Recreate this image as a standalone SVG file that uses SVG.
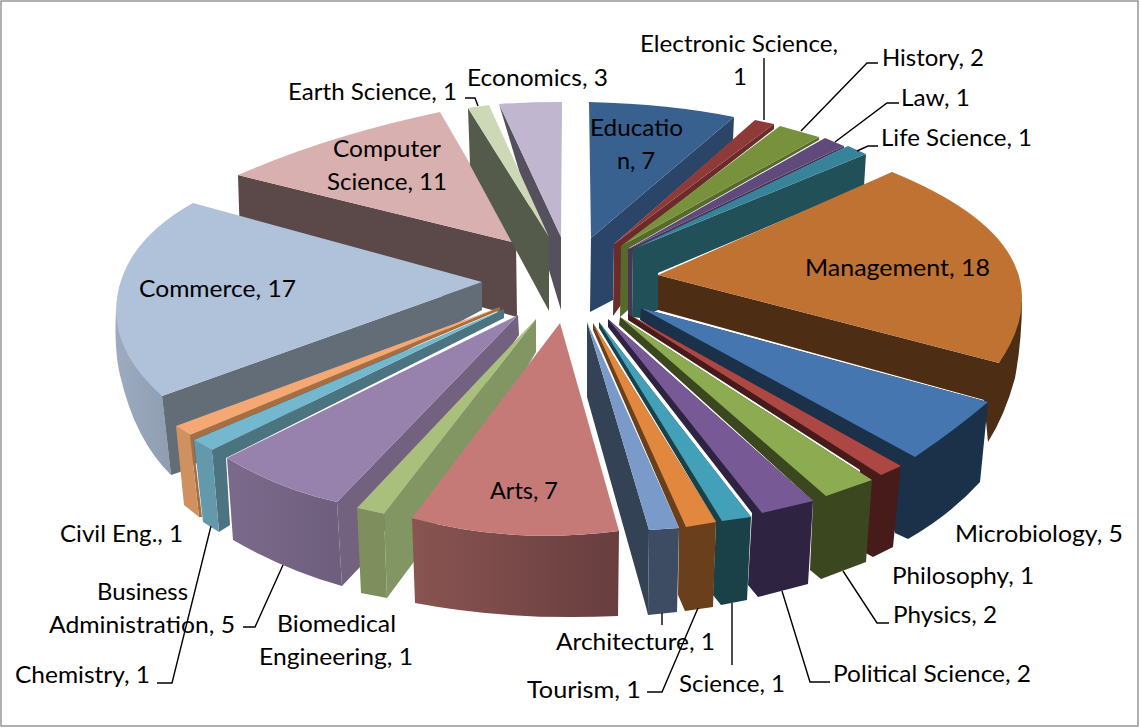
<svg xmlns="http://www.w3.org/2000/svg" width="1140" height="728" viewBox="0 0 1140 728">
<style>
text{font-family:Lato,"Open Sans","Liberation Sans",sans-serif;font-size:24px;fill:#000}
.c{fill:none;stroke:#000;stroke-width:1.4}
</style>
<defs>
<linearGradient id="artsW" x1="0" x2="1" y1="0" y2="0"><stop offset="0" stop-color="#895452"/><stop offset="1" stop-color="#683e3e"/></linearGradient>
<linearGradient id="baW" x1="0" x2="1" y1="0" y2="0"><stop offset="0" stop-color="#7c6a8c"/><stop offset="1" stop-color="#6e5e7c"/></linearGradient>
<linearGradient id="comW" x1="0" x2="1" y1="0" y2="0"><stop offset="0" stop-color="#9cabc1"/><stop offset="1" stop-color="#8f9db0"/></linearGradient>
</defs>
<rect x="1" y="1" width="1137" height="725" fill="#fff" stroke="#868686" stroke-width="1.3"/>

<g id="computer-science">
<path d="M238 175L516 243L517 317L240 240Z" fill="#5b4848"/>
<path d="M516 243L440 112Q330 135 238 175Z" fill="#d9b0b0"/>
<text x="333" y="157" textLength="108" lengthAdjust="spacingAndGlyphs">Computer</text>
<text x="327" y="190" textLength="120" lengthAdjust="spacingAndGlyphs">Science, 11</text>
</g>
<g id="commerce">
<path d="M116 310Q114 350 120 375Q135 440 171 475L162 396Z" fill="url(#comW)"/>
<path d="M482 282L482 310L180 472L171 475L162 396Z" fill="#636d78"/>
<path d="M482 282L193 203Q118 245 116 310Q116 355 162 396Z" fill="#b0c1da"/>
<text x="139" y="297" textLength="157" lengthAdjust="spacingAndGlyphs">Commerce, 17</text>
</g>
<g id="economics">
<path d="M499 104L561 237L561 310Z" fill="#55505e"/>
<path d="M499 104Q530 102 562 102L561 237Z" fill="#c0b6d0"/>
<text x="467" y="86" textLength="141" lengthAdjust="spacingAndGlyphs">Economics, 3</text>
</g>
<g id="earth-science">
<path d="M468 108L549 237L549 311L470 165Z" fill="#555b4a"/>
<path d="M468 108L489 105L549 237Z" fill="#cdd9b6"/>
<text x="288" y="100" textLength="169" lengthAdjust="spacingAndGlyphs">Earth Science, 1</text>
</g>
<g id="education">
<path d="M591 238L734 117L733 140L614 244L613 300L590 312Z" fill="#2a4567"/>
<path d="M591 238L589 102Q670 104 734 117Z" fill="#38618f"/>
<text x="590" y="136" textLength="93" lengthAdjust="spacingAndGlyphs">Educatio</text>
<text x="617" y="169" textLength="38" lengthAdjust="spacingAndGlyphs">n, 7</text>
</g>
<g id="electronic-science">
<path d="M614 244L774 124L774 129L622 247L621 305L613 316Z" fill="#6a2b2a"/>
<path d="M614 244L755 120L774 124Z" fill="#8e3a38"/>
<text x="640" y="52" textLength="198" lengthAdjust="spacingAndGlyphs">Electronic Science,</text>
<text x="733" y="85">1</text>
</g>
<g id="history">
<path d="M621 246L819 137L819 140L629 248L628 310L620 317Z" fill="#566a2c"/>
<path d="M621 246L780 126L819 137Z" fill="#77913c"/>
<text x="882" y="66" textLength="102" lengthAdjust="spacingAndGlyphs">History, 2</text>
</g>
<g id="law">
<path d="M628 249L844 146L844 148L633 250L632 317L628 315Z" fill="#463658"/>
<path d="M628 249L825 138L844 146Z" fill="#604a7b"/>
<text x="901" y="106" textLength="69" lengthAdjust="spacingAndGlyphs">Law, 1</text>
</g>
<g id="life-science">
<path d="M633 249L866 154L864 186L658 273L658 310L640 318L632 317Z" fill="#215058"/>
<path d="M633 249L848 146L866 154Z" fill="#37839a"/>
<text x="881" y="146" textLength="151" lengthAdjust="spacingAndGlyphs">Life Science, 1</text>
</g>
<g id="management">
<path d="M658 275L999 363L1022 300Q1022 340 1015 378Q1005 415 988 442L984 400L640 305L658 310Z" fill="#4d2d13"/>
<path d="M658 275L892 172Q1022 225 1022 298Q1022 330 999 363Z" fill="#bf7231"/>
<text x="805" y="276" textLength="185" lengthAdjust="spacingAndGlyphs">Management, 18</text>
</g>
<g id="microbiology">
<path d="M641 308L988 402L984 442L980 482Q950 515 908 539L895 533L881 475L640 320Z" fill="#1b3149"/>
<path d="M641 308L988 402Q955 430 915 457Z" fill="#4676b0"/>
<text x="955" y="542" textLength="168" lengthAdjust="spacingAndGlyphs">Microbiology, 5</text>
</g>
<g id="philosophy">
<path d="M628 314L901 466L893 547L873 557L860 550L860 470L628 320Z" fill="#481b1b"/>
<path d="M628 314L901 466L881 475Z" fill="#ad4744"/>
<text x="892" y="584" textLength="142" lengthAdjust="spacingAndGlyphs">Philosophy, 1</text>
</g>
<g id="physics">
<path d="M620 317L872 480L866 562L821 579L810 570L813 501L619 325Z" fill="#3b471e"/>
<path d="M620 317L872 480L826 496Z" fill="#8dab50"/>
<text x="893" y="623" textLength="104" lengthAdjust="spacingAndGlyphs">Physics, 2</text>
</g>
<g id="political-science">
<path d="M608 319L813 501L808 584L758 597L748 585L752 513L608 327Z" fill="#2e2340"/>
<path d="M608 319L813 501L762 513Z" fill="#775a95"/>
<text x="833" y="682" textLength="198" lengthAdjust="spacingAndGlyphs">Political Science, 2</text>
</g>
<g id="science">
<path d="M599 322L751 517L747 600L721 605L713 595L716 522L599 328Z" fill="#1a4048"/>
<path d="M599 322L751 517L722 521Z" fill="#43a0b9"/>
<text x="679" y="692" textLength="106" lengthAdjust="spacingAndGlyphs">Science, 1</text>
</g>
<g id="tourism">
<path d="M593 323L716 522L713 607L685 611L678 595L679 528L593 330Z" fill="#693f1c"/>
<path d="M593 323L716 522L686 527Z" fill="#e2883e"/>
<text x="527" y="698" textLength="114" lengthAdjust="spacingAndGlyphs">Tourism, 1</text>
</g>
<g id="architecture">
<path d="M587 322L649 530L648 615L646 607L587 397Z" fill="#344256"/>
<path d="M649 530L679 528L677 612L648 615Z" fill="#3d4c62"/>
<path d="M587 322L679 528L649 530Z" fill="#7a9bca"/>
<text x="556" y="650" textLength="159" lengthAdjust="spacingAndGlyphs">Architecture, 1</text>
</g>
<g id="civil-eng">
<path d="M500 307L190 435L199 517L202 517L193 440L500 310Z" fill="#a76e41"/>
<path d="M176 426L190 435L199 517L184 505Z" fill="#cf9160"/>
<path d="M500 307L190 435L176 426Z" fill="#f5a873"/>
<text x="60" y="542" textLength="123" lengthAdjust="spacingAndGlyphs">Civil Eng., 1</text>
</g>
<g id="chemistry">
<path d="M504 309L212 450L219 532L230 525L226 458L504 318Z" fill="#4c7480"/>
<path d="M194 440L212 450L219 532L203 522Z" fill="#6499ac"/>
<path d="M504 309L212 450L194 440Z" fill="#74b8cf"/>
<text x="15" y="683" textLength="135" lengthAdjust="spacingAndGlyphs">Chemistry, 1</text>
</g>
<g id="business-administration">
<path d="M337 502L518 315L519 335L360 567L342 586Z" fill="#72617f"/>
<path d="M227 458Q280 490 337 502L342 586Q285 570 233 540Z" fill="url(#baW)"/>
<path d="M518 315L337 502Q280 490 227 458Z" fill="#9781ad"/>
<text x="97" y="600" textLength="91" lengthAdjust="spacingAndGlyphs">Business</text>
<text x="49" y="633" textLength="186" lengthAdjust="spacingAndGlyphs">Administration, 5</text>
</g>
<g id="biomedical-engineering">
<path d="M384 514L536 319L536 352L413 563L387 598Z" fill="#829663"/>
<path d="M357 508L384 514L387 598L361 593Z" fill="#7e8f5d"/>
<path d="M536 319L384 514L357 508Z" fill="#a9c07c"/>
<text x="277" y="632" textLength="119" lengthAdjust="spacingAndGlyphs">Biomedical</text>
<text x="259" y="665" textLength="154" lengthAdjust="spacingAndGlyphs">Engineering, 1</text>
</g>
<g id="arts">
<path d="M412 518Q510 545 619 531L618 616Q510 621 415 603Z" fill="url(#artsW)"/>
<path d="M560 323L619 531Q510 545 412 518Z" fill="#c57a78"/>
<text x="490" y="499" textLength="68" lengthAdjust="spacingAndGlyphs">Arts, 7</text>
</g>

<g id="connectors">
<path class="c" d="M764 58V120"/>
<path class="c" d="M878 63H867L801 131"/>
<path class="c" d="M899 103H887L835 142"/>
<path class="c" d="M878 146H868L857 151"/>
<path class="c" d="M465 98H475L478 106"/>
<path class="c" d="M843 571L877 623H889"/>
<path class="c" d="M782 591L810 682H830"/>
<path class="c" d="M732 603V665"/>
<path class="c" d="M698 608L662 692H647"/>
<path class="c" d="M662 613V625"/>
<path class="c" d="M283 565L255 627H243"/>
<path class="c" d="M211 526L172 683H157"/>
</g>
</svg>
